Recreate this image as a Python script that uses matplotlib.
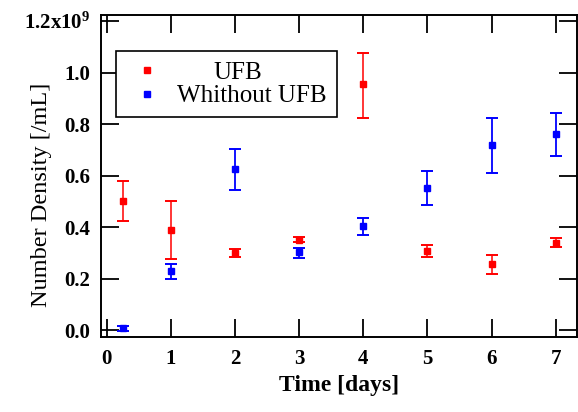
import matplotlib
matplotlib.use("Agg")
import matplotlib.pyplot as plt

plt.rcParams['font.family'] = ['Liberation Serif', 'DejaVu Serif']
plt.rcParams['mathtext.fontset'] = 'custom'
plt.rcParams['mathtext.rm'] = 'Liberation Serif:bold'
plt.rcParams['mathtext.it'] = 'Liberation Serif:bold'
plt.rcParams['mathtext.bf'] = 'Liberation Serif:bold'

# sampling days
days = [0.25, 1, 2, 3, 4, 5, 6, 7]

# number density in units of 1e9 /mL (mean, lower and upper end of the bar)
ufb_mean = [0.501, 0.389, 0.300, 0.352, 0.955, 0.309, 0.258, 0.340]
ufb_low = [0.424, 0.278, 0.283, 0.341, 0.826, 0.283, 0.220, 0.324]
ufb_high = [0.578, 0.502, 0.317, 0.363, 1.078, 0.331, 0.293, 0.357]

ctrl_mean = [0.007, 0.231, 0.627, 0.304, 0.404, 0.553, 0.721, 0.761]
ctrl_low = [-0.004, 0.198, 0.544, 0.281, 0.371, 0.488, 0.612, 0.676]
ctrl_high = [0.018, 0.257, 0.705, 0.318, 0.435, 0.619, 0.826, 0.842]

series_names = ['UFB', 'Whithout UFB']

xticks = [0, 1, 2, 3, 4, 5, 6, 7]
yticks = [0.0, 0.2, 0.4, 0.6, 0.8, 1.0, 1.2]
ytick_labels = ['0.0', '0.2', '0.4', '0.6', '0.8', '1.0', '1.2x10$^{9}$']


def err(mean, low, high):
    return [[m - l for m, l in zip(mean, low)], [h - m for m, h in zip(mean, high)]]


fig = plt.figure(figsize=(5.78, 4.12), dpi=100)
ax = fig.add_axes([101 / 578, 1 - 337 / 412, 476 / 578, 322 / 412])

eb_ufb = ax.errorbar(days, ufb_mean, yerr=err(ufb_mean, ufb_low, ufb_high), fmt='s',
                     color='#ff0000', ms=4.5, elinewidth=1.1, capsize=4, capthick=1.4)
eb_ctrl = ax.errorbar(days, ctrl_mean, yerr=err(ctrl_mean, ctrl_low, ctrl_high), fmt='s',
                      color='#0000ff', ms=4.5, elinewidth=1.3, capsize=4, capthick=1.4)

ax.set_xlim(-0.086, 7.33)
ax.set_ylim(-0.026, 1.224)
ax.set_xticks(xticks)
ax.set_xticklabels([str(x) for x in xticks], fontweight='bold')
ax.set_yticks(yticks)
ax.set_yticklabels(ytick_labels, fontweight='bold')

ax.tick_params(direction='in', length=13, width=1.3, top=True, right=True, labelsize=15)
ax.tick_params(axis='x', pad=9)
ax.tick_params(axis='y', pad=8)
for sp in ax.spines.values():
    sp.set_linewidth(1.4)

ax.set_xlabel('Time [days]', fontsize=17, fontweight='bold', va='center')
ax.xaxis.set_label_coords(0.5, -0.152)
ax.set_ylabel('Number Density [/mL]', fontsize=17.5, va='center')
ax.yaxis.set_label_coords(-0.126, 0.441)

leg = ax.legend([eb_ufb[0], eb_ctrl[0]], series_names, loc='upper left',
                bbox_to_anchor=(0.0315, 0.888), borderaxespad=0, fancybox=False,
                edgecolor='black', framealpha=1, fontsize=18, handlelength=1.68,
                handletextpad=0.36, borderpad=0.4, labelspacing=0.05, numpoints=1)
leg.get_frame().set_linewidth(1.2)
leg.get_texts()[0].set_x(36)

fig.savefig('out.png', dpi=100)
